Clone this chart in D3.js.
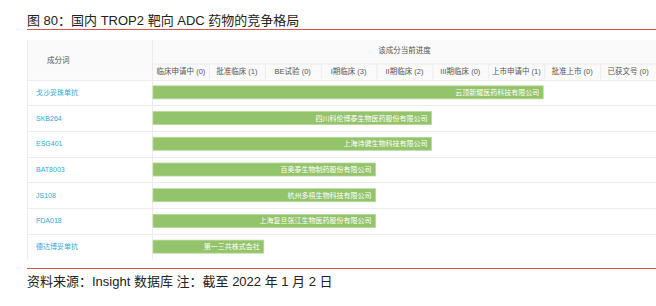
<!DOCTYPE html>
<html>
<head>
<meta charset="utf-8">
<script src="https://cdn.jsdelivr.net/npm/d3@7"></script>
<style>
  body { margin: 0; background: #fff; }
  svg { display: block; font-family: "Liberation Sans", "Noto Sans CJK SC", sans-serif; }
</style>
</head>
<body>
<div id="chart"></div>
<script>
// stages of development (columns) and how many drugs sit in each
const stages = ["临床申请中", "批准临床", "BE试验", "I期临床", "II期临床", "III期临床", "上市申请中", "批准上市", "已获文号"];
const stageCounts = [0, 1, 0, 3, 2, 0, 1, 0, 0];

// drugs (rows), their current stage and company
const drugs = ["戈沙妥珠单抗", "SKB264", "ESG401", "BAT8003", "JS108", "FDA018", "德达博妥单抗"];
const drugStages = ["上市申请中", "II期临床", "II期临床", "I期临床", "I期临床", "I期临床", "批准临床"];
const companies = ["云顶新耀医药科技有限公司", "四川科伦博泰生物医药股份有限公司", "上海诗健生物科技有限公司",
    "百奥泰生物制药股份有限公司", "杭州多禧生物科技有限公司", "上海复旦张江生物医药股份有限公司", "第一三共株式会社"];

const title = "图 80：国内 TROP2 靶向 ADC 药物的竞争格局";
const source = "资料来源：Insight 数据库 注：截至 2022 年 1 月 2 日";

const width = 656, height = 306;
const table = { left: 27, mid: 153, right: 656, top: 40, sub: 64, body: 79.5, bottom: 259.5 };

const svg = d3.select("#chart").append("svg")
    .attr("width", width)
    .attr("height", height);

// title and red rules
svg.append("text")
    .attr("x", 27).attr("y", 25)
    .attr("font-size", 13).attr("fill", "#222")
    .text(title);
svg.append("line")
    .attr("x1", 27).attr("x2", width).attr("y1", 29.5).attr("y2", 29.5)
    .attr("stroke", "#d9534f").attr("stroke-width", 1);
svg.append("line")
    .attr("x1", 27).attr("x2", width).attr("y1", 268.5).attr("y2", 268.5)
    .attr("stroke", "#d9534f").attr("stroke-width", 1);
svg.append("text")
    .attr("x", 27).attr("y", 286)
    .attr("font-size", 13).attr("fill", "#222")
    .text(source);

const x = d3.scaleBand()
    .domain(stages)
    .range([table.mid, table.right]);

const y = d3.scaleBand()
    .domain(drugs)
    .range([table.body, table.bottom]);

const grid = "#ececec";

// header background
svg.append("rect")
    .attr("x", table.left).attr("y", table.top)
    .attr("width", table.right - table.left).attr("height", table.body - table.top)
    .attr("fill", "#fafafa");

svg.append("text")
    .attr("x", 47).attr("y", 63)
    .attr("font-size", 7.5).attr("fill", "#555")
    .text("成分词");

svg.append("text")
    .attr("x", (table.mid + table.right) / 2).attr("y", 53)
    .attr("text-anchor", "middle")
    .attr("font-size", 7.5).attr("fill", "#555")
    .text("该成分当前进度");

svg.append("line")
    .attr("x1", table.mid).attr("x2", table.right)
    .attr("y1", table.sub).attr("y2", table.sub)
    .attr("stroke", grid);

// column headers
const cols = svg.append("g")
    .selectAll("g")
    .data(stages)
    .join("g")
    .attr("transform", d => `translate(${x(d)},0)`);

cols.append("line")
    .attr("x1", 0.5).attr("x2", 0.5)
    .attr("y1", table.sub).attr("y2", table.body)
    .attr("stroke", grid)
    .attr("display", (d, i) => i === 0 ? "none" : null);

cols.append("text")
    .attr("x", x.bandwidth() / 2).attr("y", 74)
    .attr("text-anchor", "middle")
    .attr("font-size", 7.5).attr("fill", "#555")
    .text((d, i) => `${d} (${stageCounts[i]})`);

// row separators (none under the last row)
svg.append("g")
    .selectAll("line")
    .data([table.body].concat(drugs.slice(0, -1).map(d => y(d) + y.bandwidth())))
    .join("line")
    .attr("x1", table.left).attr("x2", table.right)
    .attr("y1", d => Math.round(d) + 0.5).attr("y2", d => Math.round(d) + 0.5)
    .attr("stroke", grid)
    .attr("stroke-width", 1.2);

// outer left border and the column divider
svg.append("line")
    .attr("x1", table.left + 0.5).attr("x2", table.left + 0.5)
    .attr("y1", table.top).attr("y2", table.bottom)
    .attr("stroke", grid);
svg.append("line")
    .attr("x1", table.mid - 0.5).attr("x2", table.mid - 0.5)
    .attr("y1", table.top).attr("y2", table.bottom)
    .attr("stroke", grid);

// drug names
svg.append("g")
    .selectAll("text")
    .data(drugs)
    .join("text")
    .attr("x", 36)
    .attr("y", d => y(d) + y.bandwidth() / 2 + 2.5)
    .attr("font-size", 7)
    .attr("fill", "#2fa9d6")
    .text(d => d);

// progress bars
const barH = 13;
const bars = svg.append("g")
    .selectAll("g")
    .data(drugs)
    .join("g");

bars.append("rect")
    .attr("x", x.range()[0])
    .attr("y", d => y(d) + (y.bandwidth() - barH) / 2)
    .attr("width", (d, i) => x(drugStages[i]) + x.bandwidth() - x.range()[0] - 1)
    .attr("height", barH)
    .attr("fill", "#93c46b")
    .attr("stroke", "#b5d89a")
    .attr("stroke-width", 0.8);

bars.append("text")
    .attr("x", (d, i) => x(drugStages[i]) + x.bandwidth() - 5)
    .attr("y", d => y(d) + y.bandwidth() / 2 + 2.5)
    .attr("text-anchor", "end")
    .attr("font-size", 7)
    .attr("fill", "#fff")
    .text((d, i) => companies[i]);
</script>
</body>
</html>
